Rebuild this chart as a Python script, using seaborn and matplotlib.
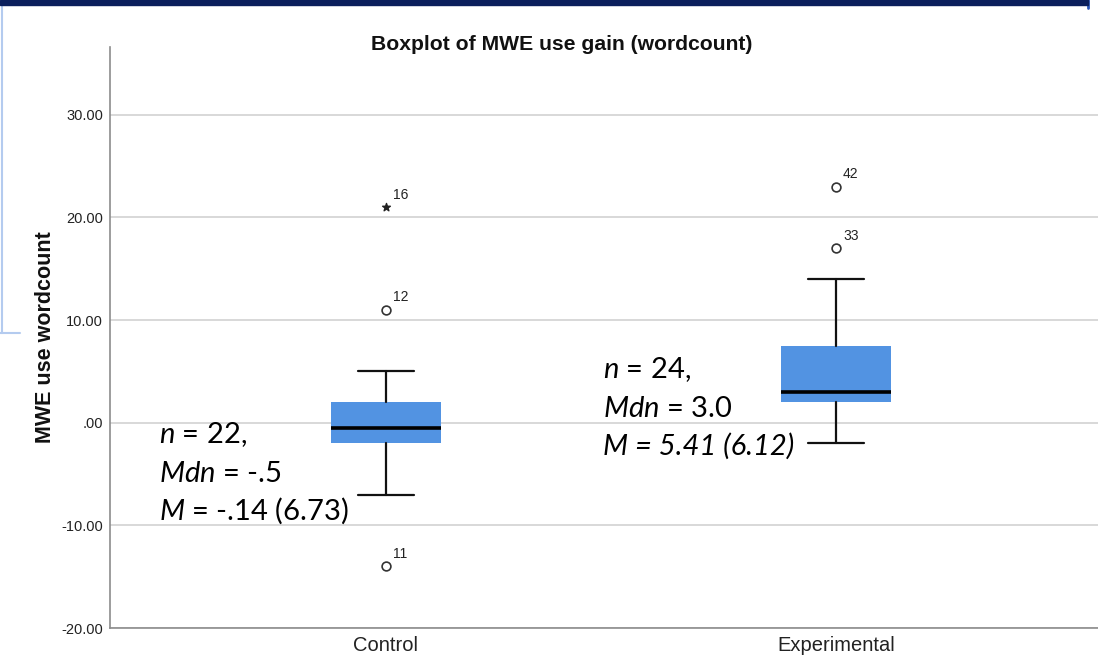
import matplotlib
matplotlib.use("Agg")
import matplotlib.pyplot as plt
import seaborn as sns
from matplotlib.patches import Rectangle
from matplotlib.lines import Line2D

# summary values
groups = ["Control", "Experimental"]
medians = [-0.5, 3.0]
q1 = [-2.0, 2.0]
q3 = [2.0, 7.5]
whisker_low = [-7.0, -2.0]
whisker_high = [5.0, 14.0]

outlier_group = [0, 0, 0, 1, 1]
outlier_value = [21.0, 11.0, -14.0, 23.0, 17.0]
outlier_case = ["16", "12", "11", "42", "33"]
outlier_extreme = [True, False, False, False, False]

y_ticks = [-20, -10, 0, 10, 20, 30]
y_tick_labels = ["-20.00", "-10.00", ".00", "10.00", "20.00", "30.00"]

sns.set_theme(style="white")
plt.rcParams["font.family"] = ["Liberation Sans", "DejaVu Sans"]
plt.rcParams["mathtext.fontset"] = "custom"
plt.rcParams["mathtext.it"] = "Lato:italic"
plt.rcParams["mathtext.rm"] = "Lato"

fig = plt.figure(figsize=(10.98, 6.58), dpi=100)
ax = fig.add_axes([110 / 1098, 30 / 658, 988 / 1098, 581 / 658])

stats = []
for i, g in enumerate(groups):
    stats.append({
        "label": g,
        "med": medians[i],
        "q1": q1[i],
        "q3": q3[i],
        "whislo": whisker_low[i],
        "whishi": whisker_high[i],
        "fliers": [],
    })

ax.bxp(
    stats,
    positions=[0, 1],
    widths=0.244,
    capwidths=0.124,
    patch_artist=True,
    showfliers=False,
    boxprops=dict(facecolor="#5293e2", edgecolor="#5293e2", linewidth=0),
    medianprops=dict(color="black", linewidth=2.6),
    whiskerprops=dict(color="#111111", linewidth=1.6),
    capprops=dict(color="#111111", linewidth=1.6),
    zorder=3,
)

for g, v, case, ext in zip(outlier_group, outlier_value, outlier_case, outlier_extreme):
    if ext:
        ax.scatter([g], [v], marker="*", s=34, color="#222222", zorder=4)
    else:
        ax.scatter([g], [v], marker="o", s=40, facecolors="white",
                   edgecolors="#333333", linewidths=1.2, zorder=4)
    ax.annotate(case, (g, v), xytext=(5, 4), textcoords="offset points",
                fontsize=10, color="#222222", ha="left", va="bottom")

ax.set_xlim(-0.613, 1.582)
ax.set_ylim(-20, 36.6)
ax.set_yticks(y_ticks)
ax.set_yticklabels(y_tick_labels)
ax.set_xticks([0, 1])
ax.set_xticklabels(groups)
ax.tick_params(axis="y", labelsize=10.5, length=0, pad=5, colors="#222222")
ax.tick_params(axis="x", labelsize=14.5, length=0, pad=6, colors="#222222")
ax.yaxis.grid(True, color="#d2d2d2", linewidth=1.2)
ax.set_axisbelow(True)
for side in ["top", "right"]:
    ax.spines[side].set_visible(False)
for side in ["left", "bottom"]:
    ax.spines[side].set_color("#8c8c8c")
    ax.spines[side].set_linewidth(1.2)

ax.set_ylabel("MWE use wordcount", fontsize=15.5, fontweight="bold", color="#111111", labelpad=4)
fig.text(562 / 1098, 1 - 45 / 658, "Boxplot of MWE use gain (wordcount)",
         ha="center", va="center", fontsize=15.2, fontweight="bold", color="#111111")

# descriptive statistics written on the slide
note_font = dict(family=["Lato", "DejaVu Sans"], fontsize=21, color="black")
ax.text(-0.504, -1.97, r"$n$ = 22,", va="baseline", **note_font)
ax.text(-0.504, -5.77, r"$Mdn$ = -.5", va="baseline", **note_font)
ax.text(-0.504, -9.47, r"$M$ = -.14 (6.73)", va="baseline", **note_font)
ax.text(0.482, 4.37, r"$n$ = 24,", va="baseline", **note_font)
ax.text(0.482, 0.57, r"$Mdn$ = 3.0", va="baseline", **note_font)
ax.text(0.482, -3.13, "M = 5.41 (6.12)", va="baseline", style="italic", **note_font)

# slide decoration around the pasted chart
fig.patches.append(Rectangle((0, 1 - 5 / 658), 1088 / 1098, 5 / 658,
                             transform=fig.transFigure, color="#0b1f5c", zorder=10))
fig.lines.append(Line2D([1088 / 1098, 1088 / 1098], [1, 1 - 8 / 658],
                        transform=fig.transFigure, color="#2a56b8", linewidth=2))
fig.lines.append(Line2D([2 / 1098, 2 / 1098], [1 - 5 / 658, 1 - 333 / 658],
                        transform=fig.transFigure, color="#b4cbef", linewidth=1.5))
fig.lines.append(Line2D([0, 20 / 1098], [1 - 333 / 658, 1 - 333 / 658],
                        transform=fig.transFigure, color="#b4cbef", linewidth=1.5))

fig.savefig("out.png", dpi=100)
